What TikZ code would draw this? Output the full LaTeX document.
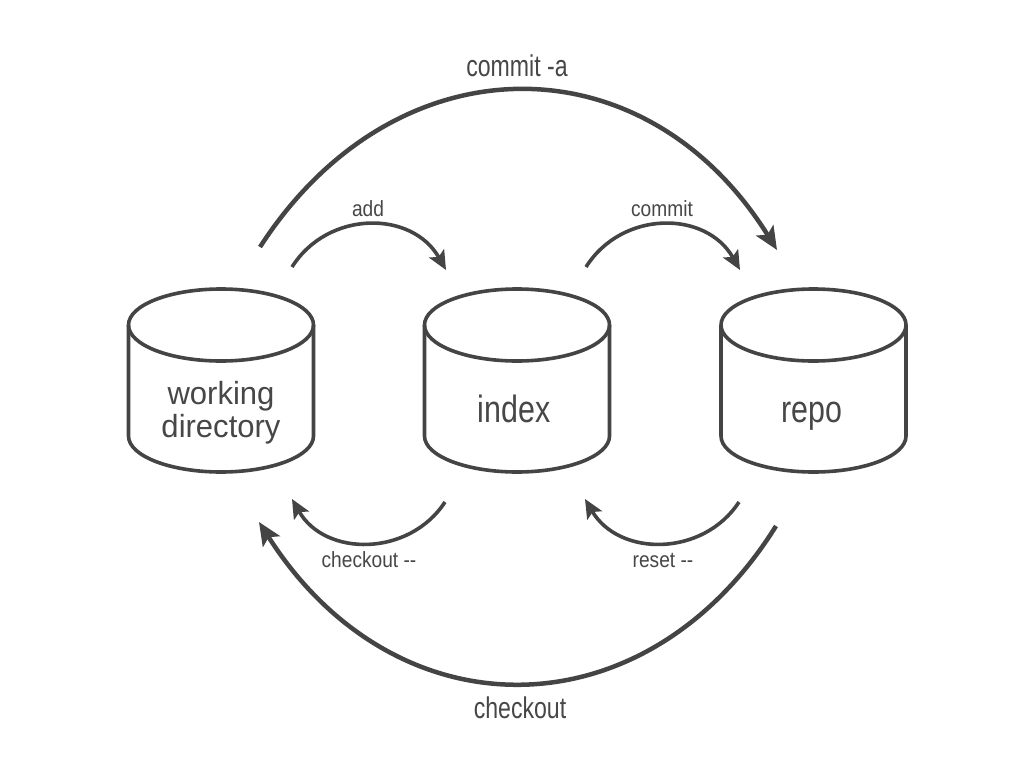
\documentclass[tikz,border=0pt]{standalone}
\usepackage{fontspec}
\setmainfont{Liberation Sans}
\newfontfamily\cylfont[FakeStretch=0.8]{Liberation Sans}
\newfontfamily\wdfont[FakeStretch=0.97]{Liberation Sans}
\newfontfamily\bigfont[FakeStretch=0.77]{Liberation Sans}
\newfontfamily\smallfont[FakeStretch=0.87]{Liberation Sans}
\usetikzlibrary{arrows.meta}
\definecolor{ink}{HTML}{444444}
\definecolor{txt}{HTML}{474747}
\begin{document}
\begin{tikzpicture}[x=1pt,y=1pt,
  cylline/.style={draw=ink,line width=3.6pt},
  dbcyl/.pic={
    \draw[cylline] (-92.5,0) -- (-92.5,-111) arc[start angle=180,end angle=360,x radius=92.5,y radius=36] -- (92.5,0);
    \draw[cylline] (0,0) ellipse[x radius=92.5,y radius=36];
  },
  cyltext/.style={inner sep=0pt,text=txt,font=\cylfont\fontsize{38}{38}\selectfont},
  wdtext/.style={inner sep=0pt,text=txt,align=center,font=\wdfont\fontsize{32}{33}\selectfont},
  biglbl/.style={inner sep=0pt,text=txt,font=\bigfont\fontsize{30}{30}\selectfont},
  smalllbl/.style={inner sep=0pt,text=txt,font=\smallfont\fontsize{22}{22}\selectfont},
  bigarrow/.style={draw=ink,line width=4.5pt,-{Stealth[length=23pt,width=20pt,inset=5pt]}},
  smallarrow/.style={draw=ink,line width=3.6pt,-{Stealth[length=19pt,width=17pt,inset=4pt]}}
]
\useasboundingbox (0,0) rectangle (1024,-768);
\fill[white] (0,0) rectangle (1024,-768);

% cylinders
\pic at (221,-325) {dbcyl};
\pic at (517,-325) {dbcyl};
\pic at (813.5,-325) {dbcyl};

\node[wdtext,anchor=north] (wd) at (221,-381) {working\\directory};
\node[cyltext,anchor=base] (idx) at (514,-422) {index};
\node[cyltext,anchor=base] (repo) at (812,-422) {repo};

% arrow end points
\coordinate (ca1) at (260,-247);
\coordinate (ca2) at (777,-250);
\coordinate (ad1) at (292,-267);
\coordinate (ad2) at (446,-270);
\coordinate (cm1) at (586,-267);
\coordinate (cm2) at (740,-270);
\coordinate (co1) at (445,-502);
\coordinate (co2) at (292,-499);
\coordinate (rs1) at (739,-502);
\coordinate (rs2) at (585,-499);
\coordinate (ck1) at (776,-526);
\coordinate (ck2) at (259,-522);

% arrows
\draw[bigarrow] (ca1) .. controls (395,-38) and (645,-38) .. (ca2);
\draw[smallarrow] (ad1) .. controls (328,-210) and (412,-210) .. (ad2);
\draw[smallarrow] (cm1) .. controls (622,-210) and (706,-210) .. (cm2);
\draw[smallarrow] (co1) .. controls (409,-557) and (325,-557) .. (co2);
\draw[smallarrow] (rs1) .. controls (703,-557) and (619,-557) .. (rs2);
\draw[bigarrow] (ck1) .. controls (645,-736) and (395,-736) .. (ck2);

% labels
\node[biglbl,anchor=base] (lca) at (517,-76) {commit -a};
\node[smalllbl,anchor=base] (lad) at (368,-216) {add};
\node[smalllbl,anchor=base] (lcm) at (662,-216) {commit};
\node[smalllbl,anchor=base] (lco) at (369,-567) {checkout --};
\node[smalllbl,anchor=base] (lrs) at (663,-567) {reset --};
\node[biglbl,anchor=base] (lck) at (520,-718) {checkout};
\end{tikzpicture}
\end{document}
